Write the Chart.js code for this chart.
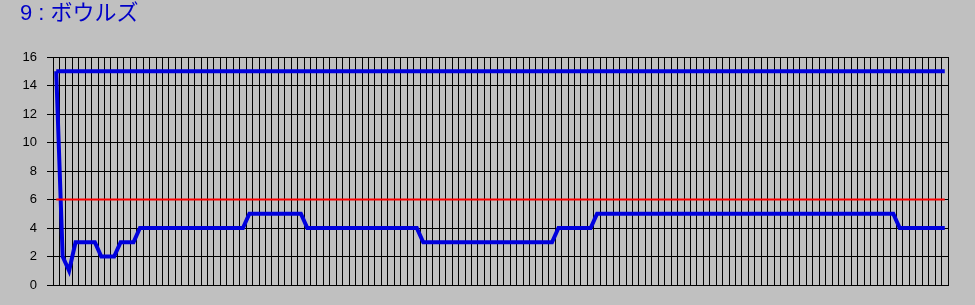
<!DOCTYPE html>
<html>
<head>
<meta charset="utf-8">
<script src="https://cdn.jsdelivr.net/npm/chart.js@4/dist/chart.umd.min.js"></script>
<style>
  html, body { margin: 0; padding: 0; background: #c0c0c0; }
  #c { display: block; }
</style>
</head>
<body>
<canvas id="c" width="975" height="305"></canvas>
<script>
// ---- data ----
const titleText = '9 : ボウルズ';
const yTickValues = [0, 2, 4, 6, 8, 10, 12, 14, 16];
const categories = Array.from({ length: 139 }, (_, i) => String(i + 1));

const rankValues = [
  15, 2, 1, 3, 3, 3, 3, 2, 2, 2, 3, 3, 3,
  4, 4, 4, 4, 4, 4, 4, 4, 4, 4, 4, 4, 4, 4, 4, 4, 4,
  5, 5, 5, 5, 5, 5, 5, 5, 5,
  4, 4, 4, 4, 4, 4, 4, 4, 4, 4, 4, 4, 4, 4, 4, 4, 4, 4,
  3, 3, 3, 3, 3, 3, 3, 3, 3, 3, 3, 3, 3, 3, 3, 3, 3, 3, 3, 3, 3,
  4, 4, 4, 4, 4, 4,
  5, 5, 5, 5, 5, 5, 5, 5, 5, 5,
  5, 5, 5, 5, 5, 5, 5, 5, 5, 5,
  5, 5, 5, 5, 5, 5, 5, 5, 5, 5,
  5, 5, 5, 5, 5, 5, 5, 5, 5, 5,
  5, 5, 5, 5, 5, 5, 5,
  4, 4, 4, 4, 4, 4, 4, 4
];

const topLineValues = [
  15,15,15,15,15,15,15,15,15,15,15,15,15,15,15,15,15,15,15,15,
  15,15,15,15,15,15,15,15,15,15,15,15,15,15,15,15,15,15,15,15,
  15,15,15,15,15,15,15,15,15,15,15,15,15,15,15,15,15,15,15,15,
  15,15,15,15,15,15,15,15,15,15,15,15,15,15,15,15,15,15,15,15,
  15,15,15,15,15,15,15,15,15,15,15,15,15,15,15,15,15,15,15,15,
  15,15,15,15,15,15,15,15,15,15,15,15,15,15,15,15,15,15,15,15,
  15,15,15,15,15,15,15,15,15,15,15,15,15,15,15,15,15,15,15
];

const limitLineValues = [
  6,6,6,6,6,6,6,6,6,6,6,6,6,6,6,6,6,6,6,6,
  6,6,6,6,6,6,6,6,6,6,6,6,6,6,6,6,6,6,6,6,
  6,6,6,6,6,6,6,6,6,6,6,6,6,6,6,6,6,6,6,6,
  6,6,6,6,6,6,6,6,6,6,6,6,6,6,6,6,6,6,6,6,
  6,6,6,6,6,6,6,6,6,6,6,6,6,6,6,6,6,6,6,6,
  6,6,6,6,6,6,6,6,6,6,6,6,6,6,6,6,6,6,6,6,
  6,6,6,6,6,6,6,6,6,6,6,6,6,6,6,6,6,6,6
];

// ---- chart ----
const bgPlugin = {
  id: 'bg',
  beforeDraw(chart) {
    const ctx = chart.ctx;
    ctx.save();
    ctx.fillStyle = '#c0c0c0';
    ctx.fillRect(0, 0, chart.width, chart.height);
    ctx.restore();
  }
};

new Chart(document.getElementById('c'), {
  type: 'line',
  data: {
    labels: categories,
    datasets: [
      {
        data: limitLineValues,
        borderColor: '#ff0000',
        borderWidth: 2,
        pointRadius: 0,
        tension: 0,
        fill: false
      },
      {
        data: topLineValues,
        borderColor: '#0000dd',
        borderWidth: 4,
        pointRadius: 0,
        tension: 0,
        fill: false
      },
      {
        data: rankValues,
        borderColor: '#0000dd',
        borderWidth: 4,
        pointRadius: 0,
        tension: 0,
        fill: false
      }
    ]
  },
  options: {
    responsive: false,
    animation: false,
    events: [],
    layout: { padding: { left: 20, right: 27, top: 0, bottom: 20 } },
    plugins: {
      legend: { display: false },
      tooltip: { enabled: false },
      title: {
        display: true,
        text: titleText,
        align: 'start',
        color: '#0000c8',
        font: { family: "'Liberation Sans', 'Noto Sans CJK JP', sans-serif", size: 22, weight: 'normal', lineHeight: 1.2 },
        padding: { top: 1, bottom: 29.6 }
      }
    },
    scales: {
      x: {
        type: 'category',
        offset: true,
        grid: { display: true, offset: true, color: '#000000', lineWidth: 1, drawTicks: false },
        border: { display: true, color: '#000000', width: 1 },
        ticks: { display: false },
        afterFit(axis) { axis.height = 0; }
      },
      y: {
        min: 0,
        max: 16,
        afterBuildTicks(axis) { axis.ticks = yTickValues.map(v => ({ value: v })); },
        grid: { color: '#000000', lineWidth: 1, drawTicks: true, tickLength: 6 },
        border: { display: true, color: '#000000', width: 1 },
        ticks: {
          color: '#000000',
          padding: 10,
          font: { family: "'Liberation Sans', Arial, sans-serif", size: 13 }
        },
        afterFit(axis) { axis.width = 33; }
      }
    }
  },
  plugins: [bgPlugin]
});
</script>
</body>
</html>
